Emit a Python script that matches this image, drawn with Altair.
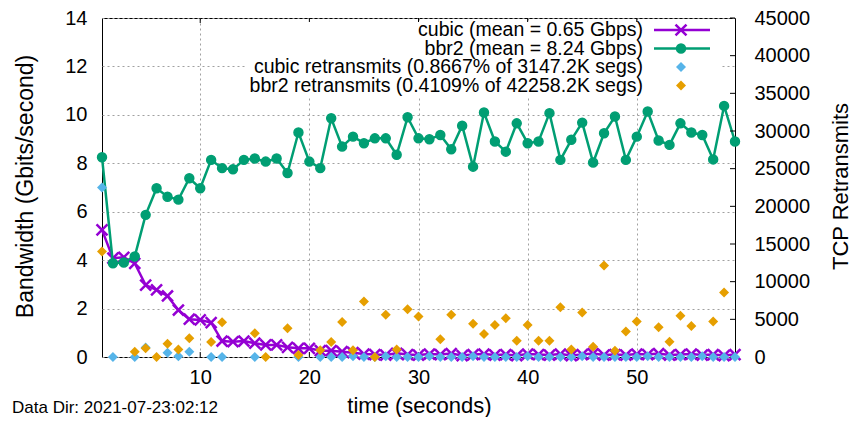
import altair as alt
import pandas as pd

# ---------------- data ----------------
time = list(range(1, 60))

cubic_gbps = [5.25, 4.08, 4.12, 3.87, 2.97, 2.77, 2.52, 1.94, 1.56, 1.53,
              1.42, 0.66, 0.63, 0.66, 0.57, 0.50, 0.50, 0.40, 0.36, 0.36,
              0.26, 0.26, 0.22,
              0.18, 0.12, 0.10, 0.08, 0.15, 0.10, 0.08, 0.12, 0.10, 0.14,
              0.06, 0.10, 0.12, 0.08, 0.10, 0.06, 0.12, 0.10, 0.08, 0.12,
              0.06, 0.10, 0.14, 0.08, 0.10, 0.08, 0.12, 0.10, 0.14, 0.08,
              0.10, 0.12, 0.08, 0.10, 0.06, 0.10]

bbr2_gbps = [8.25, 3.87, 3.90, 4.15, 5.87, 6.97, 6.62, 6.50, 7.38, 6.97,
             8.14, 7.80, 7.75, 8.14, 8.20, 8.07, 8.20, 7.60, 9.27, 8.07,
             7.80, 9.86, 8.69, 9.10, 8.83, 9.03, 9.03, 8.35, 9.90, 9.03,
             8.99, 9.17, 8.58, 9.55, 7.86, 10.10, 8.90, 8.48, 9.65, 8.83,
             8.90, 10.07, 8.14, 8.97, 9.68, 8.03, 9.24, 9.93, 8.14, 9.10,
             10.14, 8.94, 8.76, 9.65, 9.27, 9.17, 8.16, 10.37, 8.90]

cubic_rt_time = [1, 2, 4, 5, 7, 8, 9, 11, 12, 15, 19, 21, 22] + list(range(23, 60))
cubic_rt = [22500, 0, 0, 1250, 550, 100, 700, 0, 0, 0, 0, 0, 0] + \
           [0, 100, 0, 0, 100, 0, 0, 0, 100, 0,
            0, 0, 100, 0, 0, 0, 0, 100, 0, 0,
            0, 0, 100, 0, 0, 0, 0, 0, 100, 0,
            0, 0, 0, 100, 0, 0, 0]

bbr2_rt_time = [1, 4, 5, 6, 7, 8, 9, 11, 12, 15, 16, 18, 19, 21, 22, 23, 24,
                25, 26, 27, 28, 29, 30, 32, 33, 35, 36, 37, 38, 39, 40, 41,
                42, 43, 44, 45, 46, 47, 48, 49, 50, 52, 53, 54, 55, 57, 58]
bbr2_rt = [14000, 700, 1150, 0, 1750, 1000, 2500, 2000, 4600, 3150, 0, 3800,
           250, 900, 2000, 4650, 900, 7360, 0, 5600, 1000, 6350, 5370, 2350,
           5600, 4400, 3060, 4260, 5150, 2170, 4260, 2170, 2170, 6610, 1000,
           5900, 1370, 12150, 840, 3370, 4700, 3950, 2040, 5460, 4130, 4700,
           8560]

legend_labels = ["cubic (mean = 0.65 Gbps)",
                 "bbr2 (mean = 8.24 Gbps)",
                 "cubic retransmits (0.8667% of 3147.2K segs)",
                 "bbr2 retransmits (0.4109% of 42258.2K segs)"]

x_ticks = [10, 20, 30, 40, 50]
y_ticks = [0, 2, 4, 6, 8, 10, 12, 14]
y2_ticks = [0, 5000, 10000, 15000, 20000, 25000, 30000, 35000, 40000, 45000]

PURPLE = "#9400D3"
GREEN = "#009E73"
BLUE = "#56B4E9"
ORANGE = "#E69F00"
FONT = "Liberation Sans"
XPATH = "M-1,-1L1,1M-1,1L1,-1"

W, H = 633, 339

df_cubic = pd.DataFrame({"t": time, "bw": cubic_gbps})
df_bbr2 = pd.DataFrame({"t": time, "bw": bbr2_gbps})
df_crt = pd.DataFrame({"t": cubic_rt_time, "rt": cubic_rt})
df_brt = pd.DataFrame({"t": bbr2_rt_time, "rt": bbr2_rt})
df_xt = pd.DataFrame({"t": x_ticks})
df_y2t = pd.DataFrame({"rt": y2_ticks})
one = pd.DataFrame({"a": [0]})

x_enc = alt.X("t:Q",
              scale=alt.Scale(domain=[1, 59], nice=False, zero=False),
              axis=alt.Axis(values=x_ticks, title="time (seconds)", grid=True,
                            gridColor="#a0a0a0", gridDash=[2, 3], gridWidth=1,
                            ticks=False, tickSize=0, domain=False,
                            labelFont=FONT, labelFontSize=20, labelColor="black",
                            labelPadding=20, labelBaseline="middle",
                            titleFont=FONT, titleFontSize=22, titleFontWeight="normal",
                            titleColor="black", titleX=317, titleY=48,
                            titleBaseline="middle", titleAlign="center"))

y_left = alt.Y("bw:Q",
               scale=alt.Scale(domain=[0, 14], nice=False),
               axis=alt.Axis(values=y_ticks, title="Bandwidth (Gbits/second)", grid=True,
                             gridColor="#a0a0a0", gridDash=[2, 3], gridWidth=1,
                             ticks=False, tickSize=0, domain=False,
                             labelFont=FONT, labelFontSize=20, labelColor="black",
                             labelPadding=15,
                             titleFont=FONT, titleFontSize=23, titleFontWeight="normal",
                             titleColor="black", titleAngle=270, titleX=-77, titleY=168,
                             titleBaseline="middle", titleAlign="center"))

y_right = alt.Y("rt:Q",
                scale=alt.Scale(domain=[0, 45000], nice=False),
                axis=alt.Axis(orient="right", values=y2_ticks, title="TCP Retransmits",
                              format="d",
                              grid=False, ticks=False, tickSize=0, domain=False,
                              labelFont=FONT, labelFontSize=20, labelColor="black",
                              labelPadding=19, labelAlign="left",
                              titleFont=FONT, titleFontSize=22, titleFontWeight="normal",
                              titleColor="black", titleAngle=270, titleX=105, titleY=168,
                              titleBaseline="middle", titleAlign="center"))

cubic_line = alt.Chart(df_cubic).mark_line(color=PURPLE, strokeWidth=2.5).encode(x=x_enc, y=y_left)
cubic_pts = alt.Chart(df_cubic).mark_point(shape=XPATH, filled=False, size=120, strokeWidth=2.5,
                                           color=PURPLE, opacity=1).encode(x=x_enc, y=y_left)
bbr2_line = alt.Chart(df_bbr2).mark_line(color=GREEN, strokeWidth=2.5).encode(x=x_enc, y=y_left)
bbr2_pts = alt.Chart(df_bbr2).mark_point(shape="circle", filled=True, size=80, stroke=GREEN,
                                         strokeWidth=1.5, color=GREEN,
                                         opacity=1).encode(x=x_enc, y=y_left)
xt_top = alt.Chart(df_xt).mark_rule(color="black").encode(x=x_enc, y=alt.value(0), y2=alt.value(5))
xt_bot = alt.Chart(df_xt).mark_rule(color="black").encode(x=x_enc, y=alt.value(H - 5), y2=alt.value(H))

left = alt.layer(xt_top, xt_bot, cubic_line, cubic_pts, bbr2_line, bbr2_pts)

crt_pts = alt.Chart(df_crt).mark_point(shape="diamond", filled=True, size=100,
                                       color=BLUE, opacity=1).encode(x=x_enc, y=y_right)
brt_pts = alt.Chart(df_brt).mark_point(shape="diamond", filled=True, size=100,
                                       color=ORANGE, opacity=1).encode(x=x_enc, y=y_right)
y2t = alt.Chart(df_y2t).mark_rule(color="black").encode(y=y_right, x=alt.value(W - 5), x2=alt.value(W))

right = alt.layer(y2t, crt_pts, brt_pts)

# ---------------- legend (key box, top right inside plot) ----------------
leg_rows = [12, 30.5, 49, 67.5]
leg = [alt.Chart(one).mark_rect(color="white").encode(
    x=alt.value(143), x2=alt.value(620), y=alt.value(4), y2=alt.value(79))]
for lab, yy in zip(legend_labels, leg_rows):
    leg.append(alt.Chart(one).mark_text(align="right", baseline="middle", font=FONT,
                                        fontSize=19.5, color="black").encode(
        x=alt.value(541), y=alt.value(yy), text=alt.value(lab)))
leg.append(alt.Chart(one).mark_rule(color=PURPLE, strokeWidth=2.5).encode(
    x=alt.value(552), x2=alt.value(608), y=alt.value(leg_rows[0])))
leg.append(alt.Chart(one).mark_point(shape=XPATH, filled=False, size=120, strokeWidth=2.5,
                                     color=PURPLE, opacity=1).encode(
    x=alt.value(579), y=alt.value(leg_rows[0])))
leg.append(alt.Chart(one).mark_rule(color=GREEN, strokeWidth=2.5).encode(
    x=alt.value(552), x2=alt.value(608), y=alt.value(leg_rows[1])))
leg.append(alt.Chart(one).mark_point(shape="circle", filled=True, size=80, stroke=GREEN,
                                     strokeWidth=1.5, color=GREEN, opacity=1).encode(
    x=alt.value(579), y=alt.value(leg_rows[1])))
leg.append(alt.Chart(one).mark_point(shape="diamond", filled=True, size=100,
                                     color=BLUE, opacity=1).encode(
    x=alt.value(579), y=alt.value(leg_rows[2])))
leg.append(alt.Chart(one).mark_point(shape="diamond", filled=True, size=100,
                                     color=ORANGE, opacity=1).encode(
    x=alt.value(579), y=alt.value(leg_rows[3])))
leg.append(alt.Chart(one).mark_text(align="left", baseline="middle", font=FONT,
                                    fontSize=17, color="black").encode(
    x=alt.value(-90), y=alt.value(390), text=alt.value("Data Dir: 2021-07-23:02:12")))
legend = alt.layer(*leg)

chart = (alt.layer(left, right, legend)
         .resolve_scale(y="independent")
         .properties(width=W, height=H,
                     padding={"left": 94, "top": 10, "right": 116, "bottom": 60},
                     autosize=alt.AutoSizeParams(type="none"),
                     background="white")
         .configure_view(stroke="black", strokeWidth=1))

chart.save("out.html", embed_options={"renderer": "svg", "actions": False})
